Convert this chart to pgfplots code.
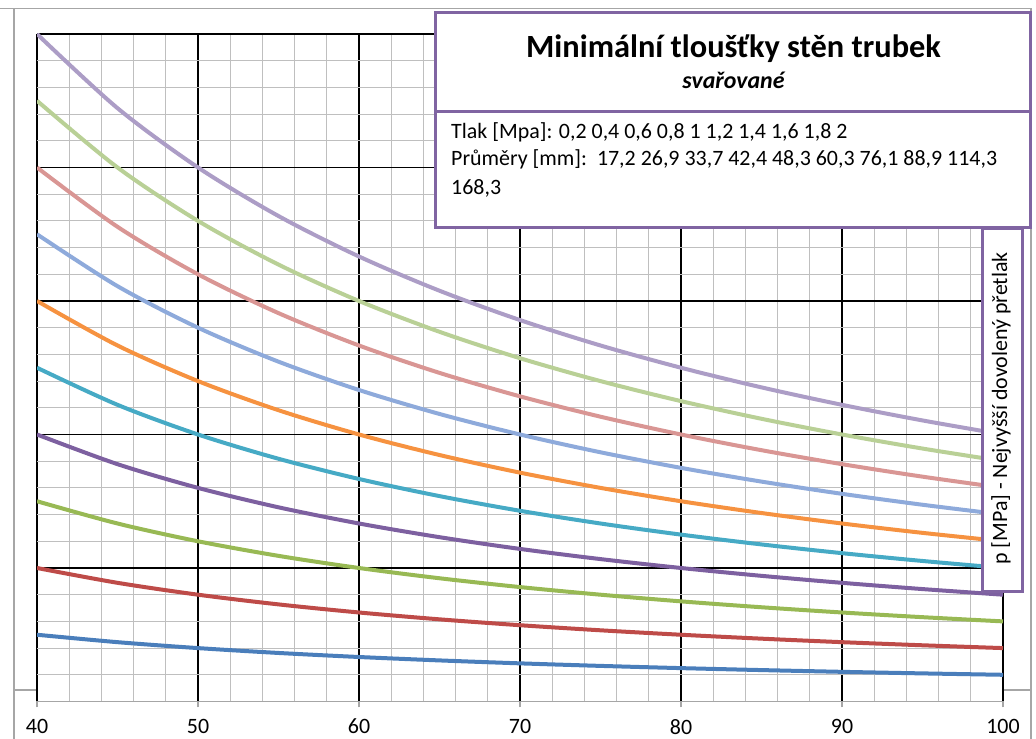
\documentclass[border=0pt]{standalone}
\usepackage{fontspec}
\setmainfont{Carlito}
\usepackage{pgfplots}
\pgfplotsset{compat=1.18}
\definecolor{s1}{HTML}{4A7EBB}
\definecolor{s2}{HTML}{BE4B48}
\definecolor{s3}{HTML}{98B954}
\definecolor{s4}{HTML}{7D60A0}
\definecolor{s5}{HTML}{46AAC5}
\definecolor{s6}{HTML}{F69240}
\definecolor{s7}{HTML}{8EAADB}
\definecolor{s8}{HTML}{D99694}
\definecolor{s9}{HTML}{B9D096}
\definecolor{s10}{HTML}{AC9DC6}
\definecolor{boxpurple}{HTML}{8064A2}
\definecolor{framegray}{HTML}{A6A6A6}
\begin{document}
\begin{tikzpicture}[x=1bp,y=1bp]
\useasboundingbox (0,0) rectangle (1036,739);
% outer frame
\draw[framegray, line width=1.2bp] (0,730.7) -- (1031,730.7);
\draw[framegray, line width=1.2bp] (14,730.7) -- (14,0);
\draw[framegray, line width=1.2bp] (1031,730.7) -- (1031,0);
\draw[framegray, line width=1.2bp] (14,49) -- (37,49);
\draw[framegray, line width=1.2bp] (1003,49) -- (1031,49);
\begin{axis}[
  at={(37bp,37.5bp)}, anchor=south west,
  scale only axis, width=966bp, height=667.5bp,
  xmin=40, xmax=100, ymin=0, ymax=5,
  xtick={40,50,...,100}, minor x tick num=4,
  ytick={0,1,...,5}, minor y tick num=4,
  yticklabels={},
  axis x line*=bottom, axis y line*=left,
  x axis line style={framegray, line width=1.2bp, -},
  y axis line style={draw=none},
  ytick style={draw=none}, minor y tick style={draw=none},
  minor x tick style={draw=none},
  xtick style={framegray, line width=1.2bp},
  tick align=outside, major tick length=6bp,
  grid=both,
  major grid style={black, line width=1.7bp},
  minor grid style={gray!50, line width=1.1bp},
  /pgf/number format/assume math mode=true,
  xticklabel style={font=\fontsize{22}{26}\selectfont, anchor=north, inner sep=0pt, yshift=-11.5bp},
  every axis plot/.append style={line width=4bp, smooth},
]
\addplot[s1] coordinates {(40,0.5) (45,0.4444) (50,0.4) (55,0.3636) (60,0.3333) (65,0.3077) (70,0.2857) (75,0.2667) (80,0.25) (85,0.2353) (90,0.2222) (95,0.2105) (100,0.2)};
\addplot[s2] coordinates {(40,1.0) (45,0.8889) (50,0.8) (55,0.7273) (60,0.6667) (65,0.6154) (70,0.5714) (75,0.5333) (80,0.5) (85,0.4706) (90,0.4444) (95,0.4211) (100,0.4)};
\addplot[s3] coordinates {(40,1.5) (45,1.3333) (50,1.2) (55,1.0909) (60,1.0) (65,0.9231) (70,0.8571) (75,0.8) (80,0.75) (85,0.7059) (90,0.6667) (95,0.6316) (100,0.6)};
\addplot[s4] coordinates {(40,2.0) (45,1.7778) (50,1.6) (55,1.4545) (60,1.3333) (65,1.2308) (70,1.1429) (75,1.0667) (80,1.0) (85,0.9412) (90,0.8889) (95,0.8421) (100,0.8)};
\addplot[s5] coordinates {(40,2.5) (45,2.2222) (50,2.0) (55,1.8182) (60,1.6667) (65,1.5385) (70,1.4286) (75,1.3333) (80,1.25) (85,1.1765) (90,1.1111) (95,1.0526) (100,1.0)};
\addplot[s6] coordinates {(40,3.0) (45,2.6667) (50,2.4) (55,2.1818) (60,2.0) (65,1.8462) (70,1.7143) (75,1.6) (80,1.5) (85,1.4118) (90,1.3333) (95,1.2632) (100,1.2)};
\addplot[s7] coordinates {(40,3.5) (45,3.1111) (50,2.8) (55,2.5455) (60,2.3333) (65,2.1538) (70,2.0) (75,1.8667) (80,1.75) (85,1.6471) (90,1.5556) (95,1.4737) (100,1.4)};
\addplot[s8] coordinates {(40,4.0) (45,3.5556) (50,3.2) (55,2.9091) (60,2.6667) (65,2.4615) (70,2.2857) (75,2.1333) (80,2.0) (85,1.8824) (90,1.7778) (95,1.6842) (100,1.6)};
\addplot[s9] coordinates {(40,4.5) (45,4.0) (50,3.6) (55,3.2727) (60,3.0) (65,2.7692) (70,2.5714) (75,2.4) (80,2.25) (85,2.1176) (90,2.0) (95,1.8947) (100,1.8)};
\addplot[s10] coordinates {(40,5.0) (45,4.4444) (50,4.0) (55,3.6364) (60,3.3333) (65,3.0769) (70,2.8571) (75,2.6667) (80,2.5) (85,2.3529) (90,2.2222) (95,2.1053) (100,2.0)};
\end{axis}
% title box
\draw[boxpurple, line width=3bp, fill=white] (435.7,726.7) rectangle (1030.5,511.3);
\draw[boxpurple, line width=3bp] (435.7,627.3) -- (1030.5,627.3);
\node[anchor=base, inner sep=0pt, font=\fontsize{32.5}{38}\selectfont\bfseries] at (733.5,681.7) {Minimální tloušťky stěn trubek};
\node[anchor=base, inner sep=0pt, font=\fontsize{24}{28}\selectfont\bfseries\itshape] at (733.5,650.7) {svařované};
\node[anchor=base west, inner sep=0pt, font=\fontsize{22}{26}\selectfont] at (451,600) {Tlak [Mpa]: 0,2 0,4 0,6 0,8 1 1,2 1,4 1,6 1,8 2};
\node[anchor=base west, inner sep=0pt, font=\fontsize{22}{26}\selectfont] at (451,573.3) {Průměry [mm]:\ \ 17,2 26,9 33,7 42,4 48,3 60,3 76,1 88,9 114,3};
\node[anchor=base west, inner sep=0pt, font=\fontsize{22}{26}\selectfont] at (451,544.7) {168,3};
% side label box
\draw[boxpurple, line width=3bp, fill=white] (982,510) rectangle (1022,147.3);
\node[rotate=90, inner sep=0pt, font=\fontsize{22}{26}\selectfont] at (1001,330.5) {p [MPa] - Nejvyšší dovolený přetlak};
\end{tikzpicture}
\end{document}
